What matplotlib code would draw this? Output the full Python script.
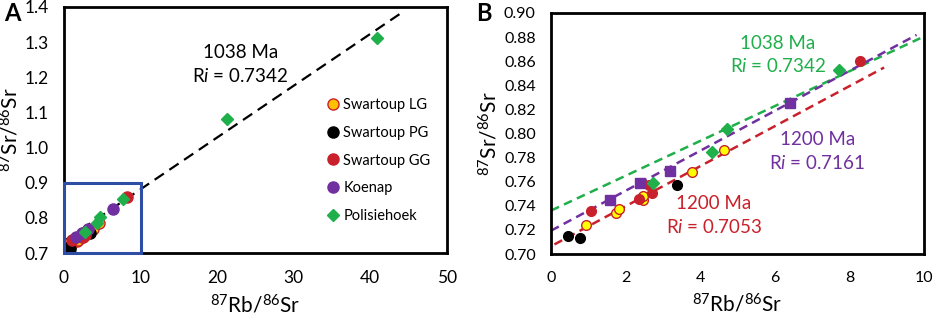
import matplotlib.pyplot as plt
import matplotlib.patches as mpatches
import numpy as np

plt.rcParams['font.family'] = ['Lato', 'DejaVu Sans']
plt.rcParams['mathtext.fontset'] = 'custom'
plt.rcParams['mathtext.rm'] = 'Lato'
plt.rcParams['mathtext.it'] = 'Lato:italic'

# 87Rb/86Sr and 87Sr/86Sr
lg_x = [0.95, 1.73, 1.82, 2.46, 2.46, 3.77, 4.63]
lg_y = [0.724, 0.734, 0.7375, 0.745, 0.748, 0.768, 0.786]
pg_x = [0.45, 0.77, 3.38]
pg_y = [0.715, 0.713, 0.757]
gg_x = [1.07, 2.35, 2.62, 2.71, 8.28]
gg_y = [0.736, 0.746, 0.757, 0.7505, 0.860]
koe_x = [1.59, 2.38, 3.20, 6.40]
koe_y = [0.745, 0.7586, 0.769, 0.8256]
pol_x = [2.74, 4.31, 4.71, 7.72, 21.25, 40.85]
pol_y = [0.759, 0.7844, 0.804, 0.853, 1.0815, 1.312]

# isochron lines: (intercept, slope, x range)
iso_all = (0.7342, 0.01473, 0.3, 44.0)
iso_green = (0.7361, 0.01444, 0.0, 9.9)
iso_purple = (0.7194, 0.01657, 0.0, 9.8)
iso_red = (0.7065, 0.0166, 0.09, 8.93)

GREEN = '#1FAF4B'
RED = '#C9212B'
PURPLE = '#7030A0'
BLUE = '#2E4EA6'

fig = plt.figure(figsize=(9.34, 3.16), dpi=100)
axA = fig.add_axes([0.0685, 0.199, 0.41, 0.779])
axB = fig.add_axes([0.590, 0.196, 0.3993, 0.763])


def iso_line(ax, iso, color, dashes, lw):
    b, m, x0, x1 = iso
    xs = np.array([x0, x1])
    ax.plot(xs, b + m * xs, color=color, lw=lw, linestyle=(0, dashes), zorder=2)


def style(ax, tsize):
    for s in ax.spines.values():
        s.set_linewidth(2.0)
    ax.tick_params(length=0, labelsize=tsize)
    ax.tick_params(axis='y', pad=11)
    ax.tick_params(axis='x', pad=12)
    ax.set_xlabel(r'$^{87}$Rb/$^{86}$Sr', fontsize=15, labelpad=6)
    ax.set_ylabel(r'$^{87}$Sr/$^{86}$Sr', fontsize=15, labelpad=2)


# ---- panel A
iso_line(axA, iso_all, 'black', (5, 3), 1.6)
ms = 8
axA.plot(lg_x, lg_y, 'o', ms=ms, mfc='#FFC000', mec=RED, mew=1.0, label='Swartoup LG', zorder=3)
axA.plot(pg_x, pg_y, 'o', ms=ms, color='black', label='Swartoup PG', zorder=3)
axA.plot(gg_x, gg_y, 'o', ms=ms, color=RED, label='Swartoup GG', zorder=3)
axA.plot(koe_x, koe_y, 'o', ms=ms, color=PURPLE, label='Koenap', zorder=3)
axA.plot(pol_x, pol_y, 'D', ms=6.5, color=GREEN, label='Polisiehoek', zorder=4)
axA.add_patch(mpatches.Rectangle((0, 0.7), 10, 0.2, fill=False, ec=BLUE, lw=2.2, zorder=5, clip_on=False))
axA.text(23, 1.236, '1038 Ma\nR$\\mathit{i}$ = 0.7342', ha='center', va='center', fontsize=13.5, linespacing=1.35)
axA.set_xlim(0, 50)
axA.set_ylim(0.7, 1.4)
axA.set_xticks(range(0, 51, 10))
axA.set_yticks(np.arange(0.7, 1.41, 0.1))
axA.yaxis.set_major_formatter(plt.FormatStrFormatter('%.1f'))
axA.legend(loc='center left', bbox_to_anchor=(0.665, 0.376), frameon=False, fontsize=10.5,
           handletextpad=0.1, labelspacing=0.95, handlelength=1.2, borderaxespad=0)
style(axA, 12.5)
fig.text(0.004, 0.995, 'A', fontsize=17, fontweight='bold', va='top')

# ---- panel B
iso_line(axB, iso_green, GREEN, (3.5, 2.2), 1.8)
iso_line(axB, iso_purple, PURPLE, (3.5, 2.2), 1.8)
iso_line(axB, iso_red, RED, (3.5, 2.2), 1.8)
msb = 7
axB.plot(lg_x, lg_y, 'o', ms=msb, mfc='#FFFF00', mec=RED, mew=1.0, zorder=3)
axB.plot(pg_x, pg_y, 'o', ms=msb, color='black', zorder=3)
axB.plot(gg_x, gg_y, 'o', ms=msb, color=RED, zorder=3)
axB.plot(koe_x, koe_y, 's', ms=msb, color=PURPLE, zorder=3)
axB.plot(pol_x, pol_y, 'D', ms=6, color=GREEN, zorder=3)
axB.text(6.08, 0.865, '1038 Ma\nR$\\mathit{i}$ = 0.7342', ha='center', va='center', fontsize=13.5,
         color=GREEN, linespacing=1.35)
axB.text(7.14, 0.785, '1200 Ma\nR$\\mathit{i}$ = 0.7161', ha='center', va='center', fontsize=13.5,
         color=PURPLE, linespacing=1.35)
axB.text(4.37, 0.732, '1200 Ma\nR$\\mathit{i}$ = 0.7053', ha='center', va='center', fontsize=13.5,
         color=RED, linespacing=1.35)
axB.set_xlim(0, 10)
axB.set_ylim(0.70, 0.90)
axB.set_xticks(range(0, 11, 2))
axB.set_yticks(np.arange(0.70, 0.901, 0.02))
axB.yaxis.set_major_formatter(plt.FormatStrFormatter('%.2f'))
style(axB, 11.5)
fig.text(0.510, 0.995, 'B', fontsize=17, fontweight='bold', va='top')

fig.savefig('out.png', dpi=100)
